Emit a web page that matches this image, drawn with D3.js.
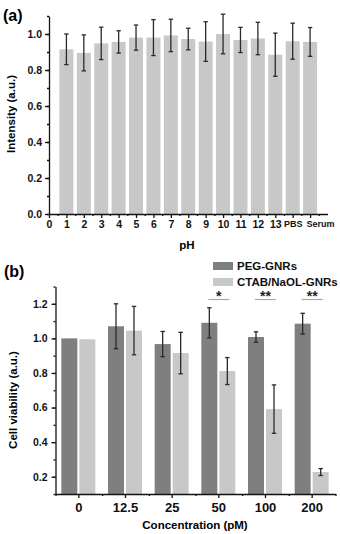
<!DOCTYPE html>
<html>
<head>
<meta charset="utf-8">
<script src="https://cdn.jsdelivr.net/npm/d3@7"></script>
<style>
  body { margin: 0; background: #fff; }
  svg { display: block; font-family: "Liberation Sans", Arial, sans-serif; font-weight: bold; }
  .axis path, .axis line { stroke: #111; stroke-width: 1.3; }
  .axis text { fill: #111; }
</style>
</head>
<body>
<svg id="chart" width="340" height="534"></svg>
<script>
// panel (a): stability at different pH
const phLabels = ["1","2","3","4","5","6","7","8","9","10","11","12","13","PBS","Serum"];
const phValues = [0.915, 0.895, 0.948, 0.956, 0.980, 0.980, 0.992, 0.972, 0.958, 1.000, 0.967, 0.975, 0.885, 0.960, 0.956];
const phErrors = [0.085, 0.100, 0.090, 0.062, 0.070, 0.100, 0.090, 0.060, 0.110, 0.110, 0.070, 0.090, 0.120, 0.100, 0.080];
const phTicks = ["0","1","2","3","4","5","6","7","8","9","10","11","12","13","PBS","Serum"];

// panel (b): cell viability
const concentrations = ["0","12.5","25","50","100","200"];
const pegValues = [1.000, 1.070, 0.967, 1.090, 1.008, 1.085];
const pegErrors = [0, 0.130, 0.073, 0.087, 0.030, 0.060];
const ctabValues = [0.995, 1.045, 0.915, 0.811, 0.591, 0.227];
const ctabErrors = [0, 0.140, 0.120, 0.078, 0.140, 0.020];
const significance = ["", "", "", "*", "**", "**"];
const seriesNames = ["PEG-GNRs", "CTAB/NaOL-GNRs"];

const svg = d3.select("#chart");
const dark = "#7f7f7f", light = "#c8c8c8", errColor = "#2a2a2a";

// ---------- (a) ----------
const xa = d3.scaleLinear().domain([0, 16]).range([49, 327.5]);
const ya = d3.scaleLinear().domain([0, 1.1]).range([214, 16]);
const ga = svg.append("g");

ga.selectAll("rect.bar").data(phValues).join("rect")
    .attr("class", "bar")
    .attr("x", (d, i) => xa(i + 1) - 7)
    .attr("width", 14)
    .attr("y", d => ya(d))
    .attr("height", d => ya(0) - ya(d))
    .attr("fill", light);

function errorBars(g, xs, vals, errs, capW) {
    vals.forEach((v, i) => {
        if (!errs[i]) return;
        const x = xs[i];
        const y1 = errs.scale(v + errs[i]), y2 = errs.scale(v - errs[i]);
        g.append("line").attr("x1", x).attr("x2", x).attr("y1", y1).attr("y2", y2)
            .attr("stroke", errColor).attr("stroke-width", 1.3);
        [y1, y2].forEach(y => g.append("line")
            .attr("x1", x - capW).attr("x2", x + capW).attr("y1", y).attr("y2", y)
            .attr("stroke", errColor).attr("stroke-width", 1.3));
    });
}
phErrors.scale = ya;
errorBars(ga, phValues.map((d, i) => xa(i + 1)), phValues, phErrors, 2.2);

// y axis (a)
ga.append("g").attr("class", "axis").attr("transform", "translate(49,0)")
    .call(d3.axisLeft(ya).tickValues(d3.range(0, 1.11, 0.1)).tickSize(2).tickFormat(""))
    .call(g => g.select(".domain").remove());
ga.append("g").attr("class", "axis").attr("transform", "translate(49,0)")
    .call(d3.axisLeft(ya).tickValues([0, 0.2, 0.4, 0.6, 0.8, 1.0]).tickSize(4).tickSizeOuter(0).tickPadding(3)
        .tickFormat(d3.format(".1f")))
    .call(g => g.selectAll("text").style("font-size", "10.5px"));

// x axis (a)
ga.append("g").attr("class", "axis").attr("transform", "translate(0,214)")
    .call(d3.axisBottom(xa).tickValues(d3.range(0.5, 16, 1)).tickSize(2).tickFormat(""))
    .call(g => g.select(".domain").remove());
ga.append("g").attr("class", "axis").attr("transform", "translate(0,214)")
    .call(d3.axisBottom(xa).tickValues(d3.range(0, 16)).tickSize(4).tickSizeOuter(0).tickPadding(3)
        .tickFormat(i => phTicks[i]))
    .call(g => g.selectAll("text")
        .style("font-size", (d) => d >= 14 ? "9px" : "10.5px")
        .attr("dx", d => d === 15 ? 10 : 0));

ga.append("text").attr("x", 187).attr("y", 249).attr("text-anchor", "middle")
    .style("font-size", "11.5px").text("pH");
ga.append("text").attr("transform", "translate(15,114) rotate(-90)").attr("text-anchor", "middle")
    .style("font-size", "11.5px").text("Intensity (a.u.)");
ga.append("text").attr("x", 3).attr("y", 21).style("font-size", "16px").text("(a)");

// ---------- (b) ----------
const xb = d3.scaleBand().domain(concentrations).range([55.5, 335.5]);
const xbEdge = d3.scaleLinear().domain([0, concentrations.length]).range([55.5, 335.5]);
const yb = d3.scaleLinear().domain([0.1, 1.3]).range([494, 286.5]);
const gb = svg.append("g");
const center = c => xb(c) + xb.bandwidth() / 2;

gb.selectAll("rect.peg").data(pegValues).join("rect")
    .attr("class", "peg")
    .attr("x", (d, i) => center(concentrations[i]) - 17.5)
    .attr("width", 16)
    .attr("y", d => yb(d))
    .attr("height", d => yb(0.1) - yb(d))
    .attr("fill", dark);
gb.selectAll("rect.ctab").data(ctabValues).join("rect")
    .attr("class", "ctab")
    .attr("x", (d, i) => center(concentrations[i]) + 0.5)
    .attr("width", 16)
    .attr("y", d => yb(d))
    .attr("height", d => yb(0.1) - yb(d))
    .attr("fill", light);

pegErrors.scale = yb;
ctabErrors.scale = yb;
errorBars(gb, concentrations.map(c => center(c) - 9.5), pegValues, pegErrors, 2.2);
errorBars(gb, concentrations.map(c => center(c) + 8.5), ctabValues, ctabErrors, 2.2);

// significance marks
concentrations.forEach((c, i) => {
    if (!significance[i]) return;
    gb.append("line").attr("x1", center(c) - 10.5).attr("x2", center(c) + 10.5)
        .attr("y1", 299.5).attr("y2", 299.5).attr("stroke", "#a8a8a8").attr("stroke-width", 1.2);
    gb.append("text").attr("x", center(c)).attr("y", 301).attr("text-anchor", "middle")
        .style("font-size", "14px").attr("fill", "#222").text(significance[i]);
});

// y axis (b)
gb.append("g").attr("class", "axis").attr("transform", "translate(55.5,0)")
    .call(d3.axisLeft(yb).tickValues(d3.range(0.1, 1.31, 0.1)).tickSize(2).tickFormat(""))
    .call(g => g.select(".domain").remove());
gb.append("g").attr("class", "axis").attr("transform", "translate(55.5,0)")
    .call(d3.axisLeft(yb).tickValues([0.2, 0.4, 0.6, 0.8, 1.0, 1.2]).tickSize(4).tickSizeOuter(0).tickPadding(4)
        .tickFormat(d3.format(".1f")))
    .call(g => g.selectAll("text").style("font-size", "10.5px"));

// x axis (b)
gb.append("g").attr("class", "axis").attr("transform", "translate(0,494)")
    .call(d3.axisBottom(xbEdge).tickValues(d3.range(0, concentrations.length + 1)).tickSize(2).tickFormat(""))
    .call(g => g.select(".domain").remove());
gb.append("g").attr("class", "axis").attr("transform", "translate(0,494)")
    .call(d3.axisBottom(xb).tickSize(4).tickSizeOuter(0).tickPadding(5))
    .call(g => g.selectAll("text").style("font-size", "13px"));

gb.append("text").attr("x", 195).attr("y", 529).attr("text-anchor", "middle")
    .style("font-size", "11.5px").text("Concentration (pM)");
gb.append("text").attr("transform", "translate(17,400) rotate(-90)").attr("text-anchor", "middle")
    .style("font-size", "11.5px").text("Cell viability (a.u.)");
gb.append("text").attr("x", 4).attr("y", 277).style("font-size", "16px").text("(b)");

// legend
const legend = gb.append("g").attr("transform", "translate(213,262)");
seriesNames.forEach((name, i) => {
    legend.append("rect").attr("x", 0).attr("y", i * 16).attr("width", 20).attr("height", 8)
        .attr("fill", i === 0 ? dark : light);
    legend.append("text").attr("x", 24).attr("y", i * 16 + 8).style("font-size", "11.5px")
        .attr("fill", "#111").text(name);
});
</script>
</body>
</html>
